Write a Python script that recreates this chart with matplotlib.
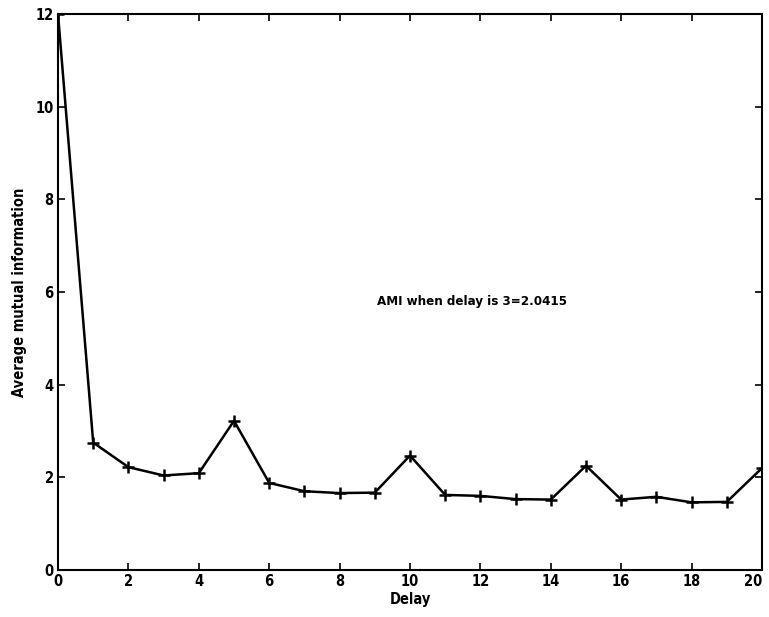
import matplotlib
matplotlib.use("Agg")
from matplotlib import pyplot as plt

plt.rcParams['font.family'] = ['DejaVu Sans']
plt.rcParams['font.stretch'] = 'condensed'
plt.rcParams['font.weight'] = 'bold'

delay = list(range(21))
ami = [12.0, 2.75, 2.22, 2.04, 2.09, 3.22, 1.88, 1.70, 1.66, 1.67, 2.47,
       1.62, 1.60, 1.53, 1.52, 2.25, 1.52, 1.58, 1.46, 1.47, 2.20]
x_ticks = list(range(0, 21, 2))
y_ticks = list(range(0, 13, 2))
note = 'AMI when delay is 3=2.0415'

fig = plt.figure(figsize=(7.69, 6.17), dpi=100)
# axes box: left 58, right 762, top 14, bottom 570 (pixels)
ax = fig.add_axes([58 / 769, 47 / 617, 704 / 769, 556 / 617])

ax.plot(delay, ami, '-+', color='black', linewidth=1.8,
        markersize=9, markeredgewidth=1.8)
ax.text(9.05, 5.8, note, fontsize=9.5, fontweight='bold', va='center')

ax.set_xlim(0, 20)
ax.set_ylim(0, 12)
ax.set_xticks(x_ticks)
ax.set_yticks(y_ticks)
ax.tick_params(direction='in', length=5, width=1.2, labelsize=10.5,
               top=True, right=True, pad=3)
for label in ax.get_xticklabels() + ax.get_yticklabels():
    label.set_fontweight('bold')
# keep the last x label inside the figure
ax.get_xticklabels()[-1].set_horizontalalignment('right')
for spine in ax.spines.values():
    spine.set_linewidth(1.5)

ax.set_xlabel('Delay', fontsize=10.5, fontweight='bold', labelpad=2)
ax.set_ylabel('Average mutual information', fontsize=10.5,
              fontweight='bold', labelpad=6)

fig.savefig('out.png', dpi=100)
